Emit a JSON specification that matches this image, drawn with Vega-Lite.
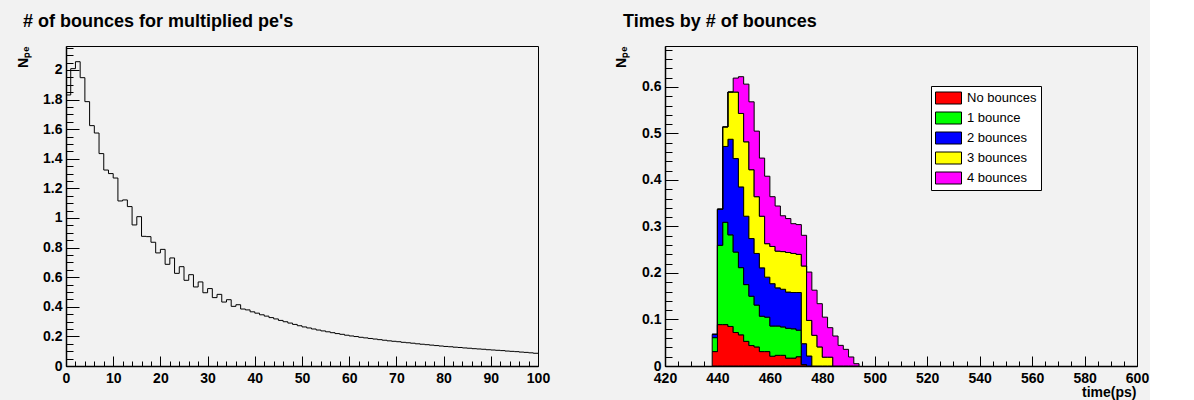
{
  "$schema": "https://vega.github.io/schema/vega-lite/v6.json",
  "padding": {"left": 15, "top": 12, "right": 0, "bottom": 0},
  "bounds": "flush",
  "spacing": 127,
  "datasets": {
    "bounces": [
      {"n":0,"npe":1.831},{"n":1,"npe":2.009},{"n":2,"npe":2.056},{"n":3,"npe":1.948},{"n":4,"npe":1.786},
      {"n":5,"npe":1.624},{"n":6,"npe":1.574},{"n":7,"npe":1.435},{"n":8,"npe":1.324},{"n":9,"npe":1.300},
      {"n":10,"npe":1.270},{"n":11,"npe":1.115},{"n":12,"npe":1.122},{"n":13,"npe":1.077},{"n":14,"npe":0.953},
      {"n":15,"npe":1.009},{"n":16,"npe":0.876},{"n":17,"npe":0.874},{"n":18,"npe":0.836},{"n":19,"npe":0.764},
      {"n":20,"npe":0.788},{"n":21,"npe":0.687},{"n":22,"npe":0.730},{"n":23,"npe":0.626},{"n":24,"npe":0.671},
      {"n":25,"npe":0.579},{"n":26,"npe":0.617},{"n":27,"npe":0.534},{"n":28,"npe":0.568},{"n":29,"npe":0.495},
      {"n":30,"npe":0.523},{"n":31,"npe":0.462},{"n":32,"npe":0.484},{"n":33,"npe":0.432},{"n":34,"npe":0.448},
      {"n":35,"npe":0.403},{"n":36,"npe":0.414},{"n":37,"npe":0.385},{"n":38,"npe":0.379},{"n":39,"npe":0.366},
      {"n":40,"npe":0.357},{"n":41,"npe":0.346},{"n":42,"npe":0.337},{"n":43,"npe":0.327},{"n":44,"npe":0.318},
      {"n":45,"npe":0.308},{"n":46,"npe":0.299},{"n":47,"npe":0.290},{"n":48,"npe":0.281},{"n":49,"npe":0.272},
      {"n":50,"npe":0.264},{"n":51,"npe":0.257},{"n":52,"npe":0.250},{"n":53,"npe":0.243},{"n":54,"npe":0.237},
      {"n":55,"npe":0.231},{"n":56,"npe":0.225},{"n":57,"npe":0.219},{"n":58,"npe":0.214},{"n":59,"npe":0.208},
      {"n":60,"npe":0.203},{"n":61,"npe":0.199},{"n":62,"npe":0.194},{"n":63,"npe":0.190},{"n":64,"npe":0.186},
      {"n":65,"npe":0.182},{"n":66,"npe":0.178},{"n":67,"npe":0.174},{"n":68,"npe":0.170},{"n":69,"npe":0.167},
      {"n":70,"npe":0.164},{"n":71,"npe":0.160},{"n":72,"npe":0.157},{"n":73,"npe":0.154},{"n":74,"npe":0.150},
      {"n":75,"npe":0.147},{"n":76,"npe":0.144},{"n":77,"npe":0.141},{"n":78,"npe":0.138},{"n":79,"npe":0.135},
      {"n":80,"npe":0.132},{"n":81,"npe":0.130},{"n":82,"npe":0.127},{"n":83,"npe":0.125},{"n":84,"npe":0.122},
      {"n":85,"npe":0.120},{"n":86,"npe":0.117},{"n":87,"npe":0.115},{"n":88,"npe":0.113},{"n":89,"npe":0.110},
      {"n":90,"npe":0.108},{"n":91,"npe":0.106},{"n":92,"npe":0.104},{"n":93,"npe":0.101},{"n":94,"npe":0.099},
      {"n":95,"npe":0.097},{"n":96,"npe":0.094},{"n":97,"npe":0.092},{"n":98,"npe":0.089},{"n":99,"npe":0.086},
      {"n":100,"npe":0.086}
    ],
    "times": [
      {"t":438,"k":0,"cat":"No bounces","v":0.031},{"t":438,"k":1,"cat":"1 bounce","v":0.030},{"t":438,"k":2,"cat":"2 bounces","v":0.007},{"t":438,"k":3,"cat":"3 bounces","v":0},{"t":438,"k":4,"cat":"4 bounces","v":0},
      {"t":440,"k":0,"cat":"No bounces","v":0.089},{"t":440,"k":1,"cat":"1 bounce","v":0.1705},{"t":440,"k":2,"cat":"2 bounces","v":0.0775},{"t":440,"k":3,"cat":"3 bounces","v":0},{"t":440,"k":4,"cat":"4 bounces","v":0},
      {"t":442,"k":0,"cat":"No bounces","v":0.089},{"t":442,"k":1,"cat":"1 bounce","v":0.220},{"t":442,"k":2,"cat":"2 bounces","v":0.163},{"t":442,"k":3,"cat":"3 bounces","v":0.042},{"t":442,"k":4,"cat":"4 bounces","v":0},
      {"t":444,"k":0,"cat":"No bounces","v":0.085},{"t":444,"k":1,"cat":"1 bounce","v":0.197},{"t":444,"k":2,"cat":"2 bounces","v":0.2055},{"t":444,"k":3,"cat":"3 bounces","v":0.1015},{"t":444,"k":4,"cat":"4 bounces","v":0},
      {"t":446,"k":0,"cat":"No bounces","v":0.072},{"t":446,"k":1,"cat":"1 bounce","v":0.173},{"t":446,"k":2,"cat":"2 bounces","v":0.201},{"t":446,"k":3,"cat":"3 bounces","v":0.143},{"t":446,"k":4,"cat":"4 bounces","v":0.030},
      {"t":448,"k":0,"cat":"No bounces","v":0.067},{"t":448,"k":1,"cat":"1 bounce","v":0.1445},{"t":448,"k":2,"cat":"2 bounces","v":0.1735},{"t":448,"k":3,"cat":"3 bounces","v":0.158},{"t":448,"k":4,"cat":"4 bounces","v":0.079},
      {"t":450,"k":0,"cat":"No bounces","v":0.053},{"t":450,"k":1,"cat":"1 bounce","v":0.122},{"t":450,"k":2,"cat":"2 bounces","v":0.147},{"t":450,"k":3,"cat":"3 bounces","v":0.160},{"t":450,"k":4,"cat":"4 bounces","v":0.124},
      {"t":452,"k":0,"cat":"No bounces","v":0.044},{"t":452,"k":1,"cat":"1 bounce","v":0.106},{"t":452,"k":2,"cat":"2 bounces","v":0.124},{"t":452,"k":3,"cat":"3 bounces","v":0.148},{"t":452,"k":4,"cat":"4 bounces","v":0.146},
      {"t":454,"k":0,"cat":"No bounces","v":0.041},{"t":454,"k":1,"cat":"1 bounce","v":0.090},{"t":454,"k":2,"cat":"2 bounces","v":0.111},{"t":454,"k":3,"cat":"3 bounces","v":0.122},{"t":454,"k":4,"cat":"4 bounces","v":0.141},
      {"t":456,"k":0,"cat":"No bounces","v":0.031},{"t":456,"k":1,"cat":"1 bounce","v":0.076},{"t":456,"k":2,"cat":"2 bounces","v":0.104},{"t":456,"k":3,"cat":"3 bounces","v":0.111},{"t":456,"k":4,"cat":"4 bounces","v":0.125},
      {"t":458,"k":0,"cat":"No bounces","v":0.031},{"t":458,"k":1,"cat":"1 bounce","v":0.074},{"t":458,"k":2,"cat":"2 bounces","v":0.086},{"t":458,"k":3,"cat":"3 bounces","v":0.072},{"t":458,"k":4,"cat":"4 bounces","v":0.145},
      {"t":460,"k":0,"cat":"No bounces","v":0.021},{"t":460,"k":1,"cat":"1 bounce","v":0.065},{"t":460,"k":2,"cat":"2 bounces","v":0.091},{"t":460,"k":3,"cat":"3 bounces","v":0.080},{"t":460,"k":4,"cat":"4 bounces","v":0.107},
      {"t":462,"k":0,"cat":"No bounces","v":0.023},{"t":462,"k":1,"cat":"1 bounce","v":0.063},{"t":462,"k":2,"cat":"2 bounces","v":0.082},{"t":462,"k":3,"cat":"3 bounces","v":0.079},{"t":462,"k":4,"cat":"4 bounces","v":0.097},
      {"t":464,"k":0,"cat":"No bounces","v":0.023},{"t":464,"k":1,"cat":"1 bounce","v":0.061},{"t":464,"k":2,"cat":"2 bounces","v":0.081},{"t":464,"k":3,"cat":"3 bounces","v":0.081},{"t":464,"k":4,"cat":"4 bounces","v":0.077},
      {"t":466,"k":0,"cat":"No bounces","v":0.017},{"t":466,"k":1,"cat":"1 bounce","v":0.064},{"t":466,"k":2,"cat":"2 bounces","v":0.078},{"t":466,"k":3,"cat":"3 bounces","v":0.085},{"t":466,"k":4,"cat":"4 bounces","v":0.073},
      {"t":468,"k":0,"cat":"No bounces","v":0.017},{"t":468,"k":1,"cat":"1 bounce","v":0.063},{"t":468,"k":2,"cat":"2 bounces","v":0.078},{"t":468,"k":3,"cat":"3 bounces","v":0.084},{"t":468,"k":4,"cat":"4 bounces","v":0.064},
      {"t":470,"k":0,"cat":"No bounces","v":0.020},{"t":470,"k":1,"cat":"1 bounce","v":0.057},{"t":470,"k":2,"cat":"2 bounces","v":0.081},{"t":470,"k":3,"cat":"3 bounces","v":0.082},{"t":470,"k":4,"cat":"4 bounces","v":0.064},
      {"t":472,"k":0,"cat":"No bounces","v":0.003},{"t":472,"k":1,"cat":"1 bounce","v":0},{"t":472,"k":2,"cat":"2 bounces","v":0.045},{"t":472,"k":3,"cat":"3 bounces","v":0.167},{"t":472,"k":4,"cat":"4 bounces","v":0.066},
      {"t":474,"k":0,"cat":"No bounces","v":0},{"t":474,"k":1,"cat":"1 bounce","v":0},{"t":474,"k":2,"cat":"2 bounces","v":0.0215},{"t":474,"k":3,"cat":"3 bounces","v":0.0765},{"t":474,"k":4,"cat":"4 bounces","v":0.104},
      {"t":476,"k":0,"cat":"No bounces","v":0},{"t":476,"k":1,"cat":"1 bounce","v":0},{"t":476,"k":2,"cat":"2 bounces","v":0},{"t":476,"k":3,"cat":"3 bounces","v":0.066},{"t":476,"k":4,"cat":"4 bounces","v":0.097},
      {"t":478,"k":0,"cat":"No bounces","v":0},{"t":478,"k":1,"cat":"1 bounce","v":0},{"t":478,"k":2,"cat":"2 bounces","v":0},{"t":478,"k":3,"cat":"3 bounces","v":0.041},{"t":478,"k":4,"cat":"4 bounces","v":0.093},
      {"t":480,"k":0,"cat":"No bounces","v":0},{"t":480,"k":1,"cat":"1 bounce","v":0},{"t":480,"k":2,"cat":"2 bounces","v":0},{"t":480,"k":3,"cat":"3 bounces","v":0.019},{"t":480,"k":4,"cat":"4 bounces","v":0.086},
      {"t":482,"k":0,"cat":"No bounces","v":0},{"t":482,"k":1,"cat":"1 bounce","v":0},{"t":482,"k":2,"cat":"2 bounces","v":0},{"t":482,"k":3,"cat":"3 bounces","v":0.019},{"t":482,"k":4,"cat":"4 bounces","v":0.0634},
      {"t":484,"k":0,"cat":"No bounces","v":0},{"t":484,"k":1,"cat":"1 bounce","v":0},{"t":484,"k":2,"cat":"2 bounces","v":0},{"t":484,"k":3,"cat":"3 bounces","v":0},{"t":484,"k":4,"cat":"4 bounces","v":0.0645},
      {"t":486,"k":0,"cat":"No bounces","v":0},{"t":486,"k":1,"cat":"1 bounce","v":0},{"t":486,"k":2,"cat":"2 bounces","v":0},{"t":486,"k":3,"cat":"3 bounces","v":0},{"t":486,"k":4,"cat":"4 bounces","v":0.0444},
      {"t":488,"k":0,"cat":"No bounces","v":0},{"t":488,"k":1,"cat":"1 bounce","v":0},{"t":488,"k":2,"cat":"2 bounces","v":0},{"t":488,"k":3,"cat":"3 bounces","v":0},{"t":488,"k":4,"cat":"4 bounces","v":0.0358},
      {"t":490,"k":0,"cat":"No bounces","v":0},{"t":490,"k":1,"cat":"1 bounce","v":0},{"t":490,"k":2,"cat":"2 bounces","v":0},{"t":490,"k":3,"cat":"3 bounces","v":0},{"t":490,"k":4,"cat":"4 bounces","v":0.0194},
      {"t":492,"k":0,"cat":"No bounces","v":0},{"t":492,"k":1,"cat":"1 bounce","v":0},{"t":492,"k":2,"cat":"2 bounces","v":0},{"t":492,"k":3,"cat":"3 bounces","v":0},{"t":492,"k":4,"cat":"4 bounces","v":0.005},
      {"t":494,"k":0,"cat":"No bounces","v":0},{"t":494,"k":1,"cat":"1 bounce","v":0},{"t":494,"k":2,"cat":"2 bounces","v":0},{"t":494,"k":3,"cat":"3 bounces","v":0},{"t":494,"k":4,"cat":"4 bounces","v":0}
    ]
  },
  "hconcat": [
    {
      "width": 472,
      "height": 320,
      "title": {"text": "# of bounces for multiplied pe's", "anchor": "start", "frame": "group", "dx": -43, "offset": 1, "baseline": "alphabetic", "font": "Liberation Sans", "fontSize": 18, "fontWeight": "bold", "color": "black"},
      "data": {"name": "bounces"},
      "resolve": {"axis": {"x": "independent", "y": "independent"}},
      "layer": [
        {
          "mark": {"type": "line", "interpolate": "step-after", "color": "black", "strokeWidth": 1},
          "encoding": {
            "x": {"field": "n", "type": "quantitative", "scale": {"domain": [0, 100], "nice": false, "zero": false},
              "axis": {"orient": "bottom", "values": [0,10,20,30,40,50,60,70,80,90,100], "format": "d", "ticks": false, "tickSize": 0, "labelPadding": 5, "title": null}},
            "y": {"field": "npe", "type": "quantitative", "scale": {"domain": [0, 2.162], "nice": false},
              "axis": {"orient": "left", "values": [0,0.2,0.4,0.6,0.8,1,1.2,1.4,1.6,1.8,2], "format": "~g", "ticks": false, "tickSize": 0, "labelPadding": 4,
                "title": "Nₚₑ", "titleX": -39, "titleY": 0, "titleAngle": -90, "titleAlign": "right", "titleBaseline": "alphabetic"}}
          }
        },
        {
          "mark": {"type": "point", "opacity": 0},
          "encoding": {
            "x": {"field": "n", "type": "quantitative", "axis": {"orient": "bottom", "values": [0,10,20,30,40,50,60,70,80,90,100], "labels": false, "domain": false, "tickSize": -10, "title": null}},
            "y": {"field": "npe", "type": "quantitative", "axis": {"orient": "left", "values": [0,0.2,0.4,0.6,0.8,1,1.2,1.4,1.6,1.8,2], "labels": false, "domain": false, "tickSize": -13, "title": null}}
          }
        },
        {
          "mark": {"type": "point", "opacity": 0},
          "encoding": {
            "x": {"field": "n", "type": "quantitative", "axis": {"orient": "bottom", "values": [0,2,4,6,8,12,14,16,18,22,24,26,28,32,34,36,38,42,44,46,48,52,54,56,58,62,64,66,68,72,74,76,78,82,84,86,88,92,94,96,98], "labels": false, "domain": false, "tickSize": -5, "title": null}},
            "y": {"field": "npe", "type": "quantitative", "axis": {"orient": "left", "values": [0.05,0.1,0.15,0.25,0.3,0.35,0.45,0.5,0.55,0.65,0.7,0.75,0.85,0.9,0.95,1.05,1.1,1.15,1.25,1.3,1.35,1.45,1.5,1.55,1.65,1.7,1.75,1.85,1.9,1.95,2.05,2.1,2.15], "labels": false, "domain": false, "tickSize": -7, "title": null}}
          }
        }
      ]
    },
    {
      "width": 472,
      "height": 320,
      "title": {"text": "Times by # of bounces", "anchor": "start", "frame": "group", "dx": -42, "offset": 1, "baseline": "alphabetic", "font": "Liberation Sans", "fontSize": 18, "fontWeight": "bold", "color": "black"},
      "data": {"name": "times"},
      "resolve": {"axis": {"x": "independent", "y": "independent"}},
      "layer": [
        {
          "mark": {"type": "area", "interpolate": "step-after", "stroke": "black", "strokeWidth": 1, "opacity": 1},
          "encoding": {
            "x": {"field": "t", "type": "quantitative", "scale": {"domain": [420, 600], "nice": false, "zero": false},
              "axis": {"orient": "bottom", "values": [420,440,460,480,500,520,540,560,580,600], "format": "d", "ticks": false, "tickSize": 0, "labelPadding": 5,
                "title": "time(ps)", "titleX": 471, "titleY": 30, "titleAlign": "right", "titleBaseline": "alphabetic", "titleAnchor": "end"}},
            "y": {"field": "v", "type": "quantitative", "stack": "zero", "scale": {"domain": [0, 0.688], "nice": false},
              "axis": {"orient": "left", "values": [0,0.1,0.2,0.3,0.4,0.5,0.6], "format": "~g", "ticks": false, "tickSize": 0, "labelPadding": 4,
                "title": "Nₚₑ", "titleX": -40, "titleY": 0, "titleAngle": -90, "titleAlign": "right", "titleBaseline": "alphabetic"}},
            "color": {"field": "cat", "type": "nominal",
              "scale": {"domain": ["No bounces", "1 bounce", "2 bounces", "3 bounces", "4 bounces"], "range": ["#ff0000", "#00ff00", "#0000ff", "#ffff00", "#ff00ff"]},
              "legend": {"orient": "none", "legendX": 865, "legendY": 40, "direction": "vertical", "title": null,
                "fillColor": "white", "strokeColor": "black", "padding": 4,
                "symbolType": "M-1,-0.4615H1V0.4615H-1Z", "symbolSize": 676, "symbolStrokeColor": "black", "symbolStrokeWidth": 1, "symbolOpacity": 1,
                "labelFont": "Liberation Sans", "labelFontSize": 13, "labelFontWeight": "normal", "labelColor": "black", "labelOffset": 5,
                "clipHeight": 16, "rowPadding": 4}},
            "order": {"field": "k", "type": "quantitative"}
          }
        },
        {
          "mark": {"type": "point", "opacity": 0},
          "encoding": {
            "x": {"field": "t", "type": "quantitative", "axis": {"orient": "bottom", "values": [420,440,460,480,500,520,540,560,580,600], "labels": false, "domain": false, "tickSize": -10, "title": null}},
            "y": {"field": "v", "type": "quantitative", "axis": {"orient": "left", "values": [0,0.1,0.2,0.3,0.4,0.5,0.6], "labels": false, "domain": false, "tickSize": -13, "title": null}}
          }
        },
        {
          "mark": {"type": "point", "opacity": 0},
          "encoding": {
            "x": {"field": "t", "type": "quantitative", "axis": {"orient": "bottom", "values": [425,430,435,445,450,455,465,470,475,485,490,495,505,510,515,525,530,535,545,550,555,565,570,575,585,590,595], "labels": false, "domain": false, "tickSize": -5, "title": null}},
            "y": {"field": "v", "type": "quantitative", "axis": {"orient": "left", "values": [0.02,0.04,0.06,0.08,0.12,0.14,0.16,0.18,0.22,0.24,0.26,0.28,0.32,0.34,0.36,0.38,0.42,0.44,0.46,0.48,0.52,0.54,0.56,0.58,0.62,0.64,0.66,0.68], "labels": false, "domain": false, "tickSize": -7, "title": null}}
          }
        }
      ]
    }
  ],
  "config": {
    "background": "#f2f2f2",
    "font": "Liberation Sans",
    "view": {"stroke": "black", "strokeWidth": 1, "fill": "#f2f2f2"},
    "axis": {
      "grid": false,
      "domainColor": "black",
      "domainWidth": 1.5,
      "tickColor": "black",
      "tickWidth": 1,
      "labelFont": "Liberation Sans",
      "labelFontSize": 14,
      "labelFontWeight": "bold",
      "labelColor": "black",
      "labelFlush": false,
      "labelOverlap": false,
      "labelBound": false,
      "titleFont": "Liberation Sans",
      "titleFontSize": 14,
      "titleFontWeight": "bold",
      "titleColor": "black"
    }
  }
}
